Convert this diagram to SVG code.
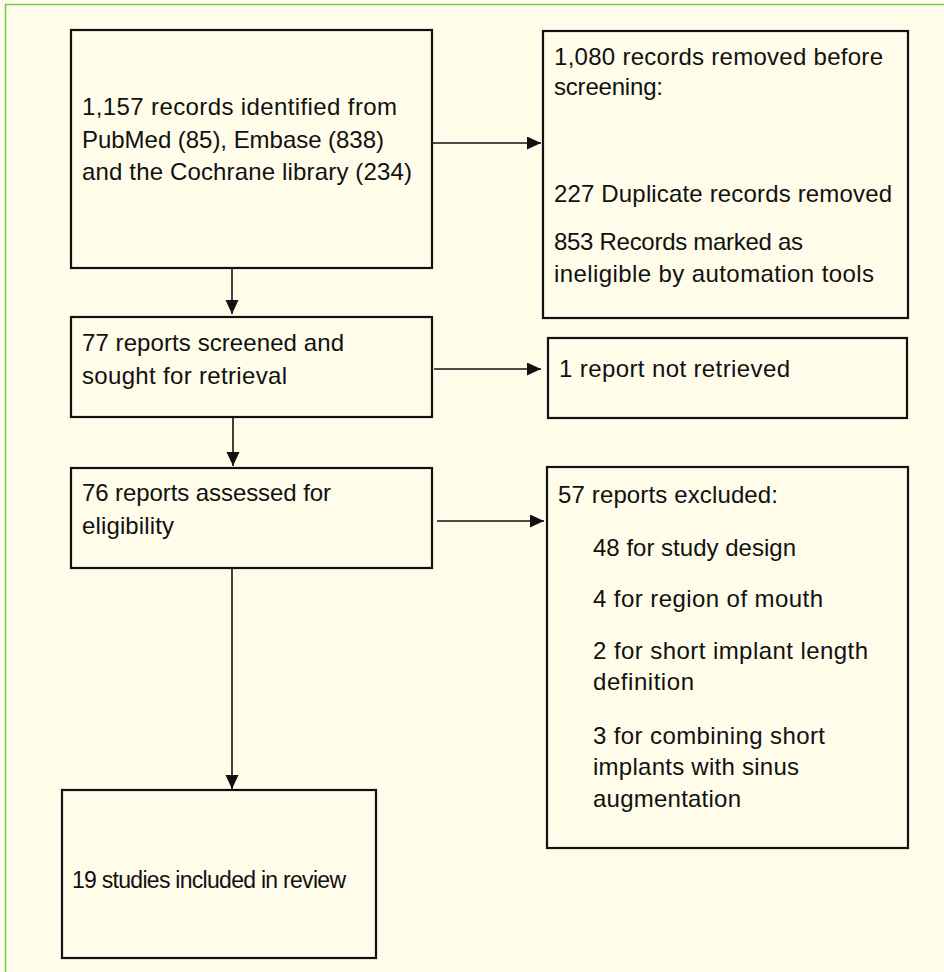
<svg xmlns="http://www.w3.org/2000/svg" width="944" height="972" viewBox="0 0 944 972">
<style>
.bg{fill:#FFFCEA}
.frame{fill:none;stroke:#6CCB4E;stroke-width:1.5}
.box{fill:#FFFCEA;stroke:#111;stroke-width:2.2}
.t{font-family:"Liberation Sans",Arial,sans-serif;font-size:24px;fill:#111}
.c{stroke:#111;stroke-width:1.6;fill:none}
</style>
<defs>
<marker id="ah" markerUnits="userSpaceOnUse" markerWidth="14" markerHeight="14" refX="14" refY="6.5" orient="auto">
<path d="M0,0 L14,6.5 L0,13 Z" fill="#111"/>
</marker>
</defs>
<rect class="bg" x="0" y="0" width="944" height="972"/>
<rect class="frame" x="5.5" y="4.5" width="980" height="1000"/>
<g id="connectors">
<line class="c" x1="432" y1="143" x2="541" y2="143" marker-end="url(#ah)"/>
<line class="c" x1="232" y1="260" x2="232" y2="314" marker-end="url(#ah)"/>
<line class="c" x1="434" y1="369" x2="541" y2="369" marker-end="url(#ah)"/>
<line class="c" x1="233" y1="413" x2="233" y2="466" marker-end="url(#ah)"/>
<line class="c" x1="437" y1="521" x2="544" y2="521" marker-end="url(#ah)"/>
<line class="c" x1="232" y1="568" x2="232" y2="789" marker-end="url(#ah)"/>
</g>
<g id="n1">
<rect class="box" x="71" y="30" width="361" height="238"/>
<text class="t" x="82" y="115" textLength="315" lengthAdjust="spacing">1,157 records identified from</text>
<text class="t" x="82" y="148" textLength="302" lengthAdjust="spacing">PubMed (85), Embase (838)</text>
<text class="t" x="82" y="180" textLength="330" lengthAdjust="spacing">and the Cochrane library (234)</text>
</g>
<g id="n2">
<rect class="box" x="543" y="31" width="365" height="287"/>
<text class="t" x="554" y="65" textLength="329" lengthAdjust="spacing">1,080 records removed before</text>
<text class="t" x="554" y="95" textLength="109" lengthAdjust="spacing">screening:</text>
<text class="t" x="554" y="202" textLength="338" lengthAdjust="spacing">227 Duplicate records removed</text>
<text class="t" x="554" y="250" textLength="249" lengthAdjust="spacing">853 Records marked as</text>
<text class="t" x="554" y="282" textLength="320" lengthAdjust="spacing">ineligible by automation tools</text>
</g>
<g id="n3">
<rect class="box" x="71" y="317" width="361" height="100"/>
<text class="t" x="82" y="351" textLength="262" lengthAdjust="spacing">77 reports screened and</text>
<text class="t" x="82" y="384" textLength="205" lengthAdjust="spacing">sought for retrieval</text>
</g>
<g id="n4">
<rect class="box" x="548" y="338" width="359" height="80"/>
<text class="t" x="559" y="377" textLength="231" lengthAdjust="spacing">1 report not retrieved</text>
</g>
<g id="n5">
<rect class="box" x="71" y="468" width="361" height="100"/>
<text class="t" x="82" y="501" textLength="249" lengthAdjust="spacing">76 reports assessed for</text>
<text class="t" x="82" y="534" textLength="92" lengthAdjust="spacing">eligibility</text>
</g>
<g id="n6">
<rect class="box" x="547" y="467" width="361" height="381"/>
<text class="t" x="558" y="503" textLength="220" lengthAdjust="spacing">57 reports excluded:</text>
<text class="t" x="593" y="556" textLength="203" lengthAdjust="spacing">48 for study design</text>
<text class="t" x="593" y="607" textLength="230" lengthAdjust="spacing">4 for region of mouth</text>
<text class="t" x="593" y="659" textLength="275" lengthAdjust="spacing">2 for short implant length</text>
<text class="t" x="593" y="690" textLength="101" lengthAdjust="spacing">definition</text>
<text class="t" x="593" y="744" textLength="232" lengthAdjust="spacing">3 for combining short</text>
<text class="t" x="593" y="775" textLength="206" lengthAdjust="spacing">implants with sinus</text>
<text class="t" x="593" y="807" textLength="148" lengthAdjust="spacing">augmentation</text>
</g>
<g id="n7">
<rect class="box" x="62" y="790" width="314" height="168"/>
<text class="t" x="72" y="888" style="font-size:23px" textLength="274" lengthAdjust="spacing">19 studies included in review</text>
</g>
</svg>
